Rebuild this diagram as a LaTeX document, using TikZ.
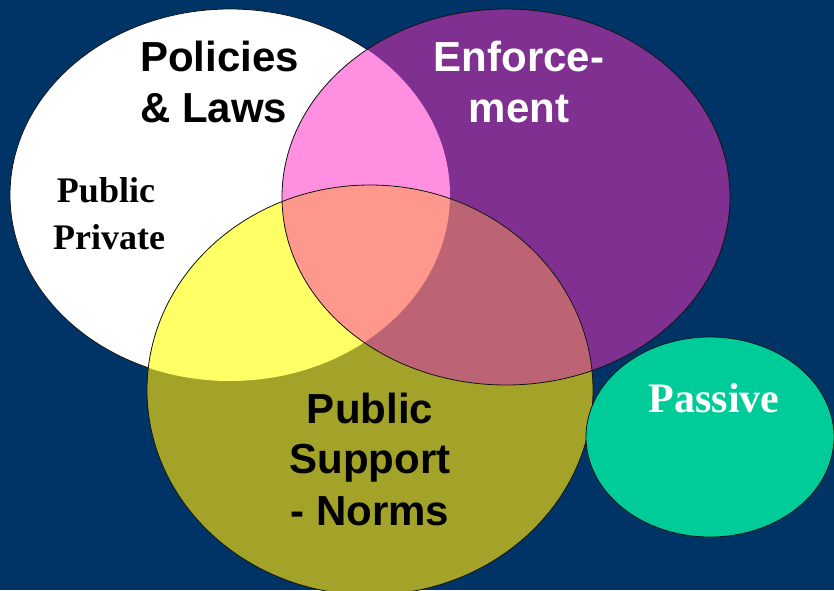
\documentclass[tikz,border=0pt]{standalone}
\usepackage{fontspec}
\setmainfont{Liberation Serif}
\setsansfont{Liberation Sans}
\definecolor{cNavy}{RGB}{0,51,102}
\definecolor{cPurple}{RGB}{128,48,144}
\definecolor{cPink}{RGB}{255,143,224}
\definecolor{cYellow}{RGB}{255,255,102}
\definecolor{cOlive}{RGB}{163,163,41}
\definecolor{cPurOl}{RGB}{188,100,116}
\definecolor{cSalmon}{RGB}{255,152,140}
\definecolor{cGreen}{RGB}{0,204,153}
\definecolor{cEdge}{RGB}{20,20,20}
\def\ellW{(230,195) ellipse [x radius=220pt, y radius=186pt]}
\def\ellP{(506,197) ellipse [x radius=224pt, y radius=188pt]}
\def\ellO{(370,390) ellipse [x radius=223pt, y radius=205pt]}
\def\ellG{(710,437) ellipse [x radius=124pt, y radius=100pt]}
\tikzset{
  edge/.style={draw=cEdge, line width=0.8pt},
  lbl/.style={inner sep=0pt, anchor=base},
  lblw/.style={inner sep=0pt, anchor=base west},
  sanstxt/.style={font=\sffamily\bfseries\fontsize{42}{50}\selectfont},
  seriftxt/.style={font=\rmfamily\bfseries\fontsize{36}{43}\selectfont},
  serifbig/.style={font=\rmfamily\bfseries\fontsize{42}{50}\selectfont}
}
\begin{document}
\begin{tikzpicture}[x=1pt,y=-1pt]
\useasboundingbox (0,0) rectangle (834,590);
\clip (0,0) rectangle (834,590);
\fill[cNavy] (0,0) rectangle (834,590);
% Policies & Laws circle
\path[fill=white, edge] \ellW;
% Enforcement circle
\fill[cPurple] \ellP;
\begin{scope}
  \clip \ellW;
  \fill[cPink] \ellP;
\end{scope}
% Public support circle
\fill[cOlive] \ellO;
\begin{scope}
  \clip \ellW;
  \fill[cYellow] \ellO;
\end{scope}
\begin{scope}
  \clip \ellP;
  \fill[cPurOl] \ellO;
\end{scope}
\begin{scope}
  \clip \ellW;
  \clip \ellP;
  \fill[cSalmon] \ellO;
\end{scope}
\path[edge] \ellP;
\path[edge] \ellO;
% Passive circle
\path[fill=cGreen, edge] \ellG;
% Labels
\node[lblw, sanstxt] (pol1) at (140,71) {Policies};
\node[lblw, sanstxt] (pol2) at (140,122) {\&~Laws};
\node[lbl, seriftxt] (pub1) at (106,202) {Public};
\node[lbl, seriftxt] (pub2) at (109,249) {Private};
\node[lbl, sanstxt, text=white] (enf1) at (519,71) {Enforce-};
\node[lbl, sanstxt, text=white] (enf2) at (519,122) {ment};
\node[lbl, sanstxt] (sup1) at (370,423) {Public};
\node[lbl, sanstxt] (sup2) at (370,473) {Support};
\node[lbl, sanstxt] (sup3) at (370,525) {- Norms};
\node[lbl, serifbig, text=white] (pas) at (714,412) {Passive};
\end{tikzpicture}
\end{document}
